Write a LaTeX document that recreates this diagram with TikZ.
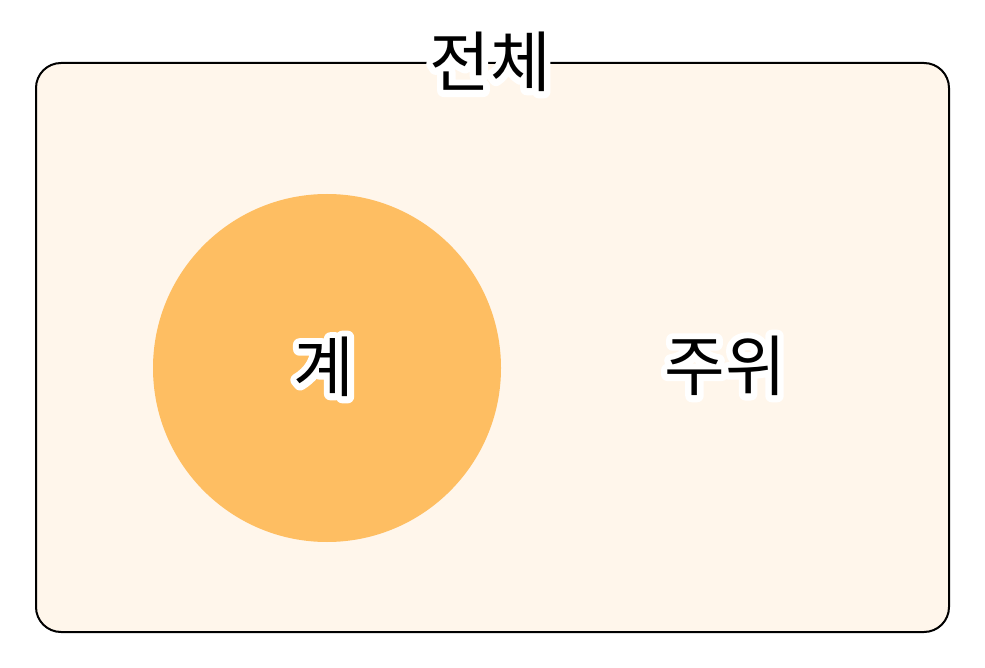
\documentclass[tikz,border=0pt]{standalone}
\usepackage{fontspec}
\newfontfamily\kr{Noto Sans CJK KR}
\definecolor{bgc}{HTML}{FFF6EB}
\definecolor{orb}{HTML}{FEBE62}
\tikzset{
  lbl/.style={font=\kr\fontsize{66}{78}\selectfont, inner sep=0pt, text=black},
  halo/.style={lbl, text=white},
  frame/.style={draw=black, line width=2pt, fill=bgc, rounded corners=25pt},
  blob/.style={fill=orb, draw=none}
}
\newcommand\halotext[3]{%
  \coordinate (#1pos) at #2;
  \node[halo] (#1h) at (#1pos) {\special{pdf:code 2 Tr 13 w 1 j 1 J 1 1 1 RG}#3\special{pdf:code 0 Tr 1 w}};
  \node[lbl] (#1) at (#1pos) {#3};
}
\begin{document}
\begin{tikzpicture}[x=1pt,y=-1pt]
  \useasboundingbox[fill=white] (0,0) rectangle (985,668);
  \draw[frame] (36,63) rectangle (949,632);
  \fill[blob] (327,368) circle (174);
  \node[inner sep=0pt] (circ) at (327,368) {};
  \halotext{whole}{(490,62)}{전체}
  \halotext{sys}{(324,367)}{계}
  \halotext{env}{(725,366)}{주위}
\end{tikzpicture}
\end{document}
